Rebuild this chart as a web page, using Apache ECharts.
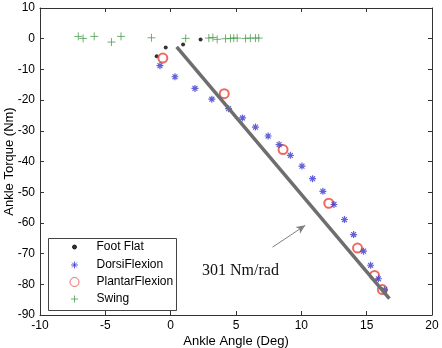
<!DOCTYPE html>
<html lang="en">
<head>
    <meta charset="utf-8">
    <title>Ankle torque vs angle</title>
    <script src="https://cdn.jsdelivr.net/npm/echarts@6/dist/echarts.min.js"></script>
    <style>
        html, body { margin: 0; padding: 0; background: #fff; }
        #main { width: 442px; height: 348px; }
    </style>
</head>
<body>
<div id="main"></div>
<script type="application/javascript">
    // values (deg, Nm)
    var footFlatX = [-1.07, -0.38, 0.95, 2.29];
    var footFlatY = [-5.7, -2.9, -1.9, -0.3];

    var dorsiX = [-0.82, 0.33, 1.86, 3.15, 4.43, 5.5, 6.49, 7.46, 8.3, 9.16, 10.05, 10.86, 11.65, 12.5, 13.3, 14.0, 14.76, 15.3, 15.9, 16.36];
    var dorsiY = [-8.8, -12.4, -16.2, -19.7, -22.8, -25.8, -28.8, -31.7, -34.5, -38.0, -41.5, -45.6, -49.7, -54.0, -58.9, -63.8, -69.2, -73.8, -78.2, -81.8];

    var plantarX = [-0.6, 4.1, 8.6, 12.1, 14.3, 15.6, 16.2];
    var plantarY = [-6.3, -17.9, -36.1, -53.6, -68.2, -77.1, -81.7];

    var swingX = [-7.07, -6.7, -5.85, -4.53, -3.8, -1.47, 1.15, 2.92, 3.23, 3.56, 4.2, 4.58, 4.83, 5.09, 5.73, 6.1, 6.49, 6.74];
    var swingY = [0.75, 0.1, 0.75, -1.1, 0.75, 0.3, 0.1, 0.2, 0.4, -0.2, 0.0, 0.1, 0.2, 0.2, 0.1, 0.2, 0.2, 0.2];

    // stiffness fit line and annotation
    var fitX = [0.46, 16.74];
    var fitY = [-2.7, -84.7];
    var arrowX = [7.8, 10.3];
    var arrowY = [-67.9, -60.8];
    var slopeText = '301 Nm/rad';
    var slopeAt = [5.34, -75.5];

    var xTicks = { min: -10, max: 20, step: 5 };
    var yTicks = { min: -90, max: 10, step: 10 };

    function pairs(xs, ys) {
        var out = [];
        for (var i = 0; i < xs.length; i++) {
            out.push([xs[i], ys[i]]);
        }
        return out;
    }

    var sansFont = 'Liberation Sans, Arial, sans-serif';
    var plusPath = 'path://M0,5L10,5M5,0L5,10';
    var starPath = 'path://M0,5L10,5M5,0L5,10M1.5,1.5L8.5,8.5M1.5,8.5L8.5,1.5';

    function boxAxis(ticks, pos, withLabels, name) {
        var ax = {
            type: 'value',
            position: pos,
            min: ticks.min,
            max: ticks.max,
            interval: ticks.step,
            axisLine: { show: true, onZero: false, lineStyle: { color: '#333', width: 1 } },
            axisTick: { show: true, inside: true, length: 4, lineStyle: { color: '#333' } },
            axisLabel: { show: withLabels, color: '#000', fontSize: 12, fontFamily: sansFont, margin: 5 },
            splitLine: { show: false }
        };
        if (name) {
            ax.name = name;
            ax.nameLocation = 'middle';
            ax.nameMoveOverlap = false;
            ax.nameTextStyle = { color: '#000', fontSize: 13, fontFamily: sansFont };
        }
        return ax;
    }

    var xBottom = boxAxis(xTicks, 'bottom', true, 'Ankle Angle (Deg)');
    xBottom.nameGap = 20;
    var yLeft = boxAxis(yTicks, 'left', true, 'Ankle Torque (Nm)');
    yLeft.nameGap = 24;

    // one legend per row so each marker keeps its own size
    function legendRow(name, icon, rowY, size, color, fill) {
        return {
            data: [{ name: name, icon: icon }],
            left: 74 - size / 2,
            top: rowY - 7,
            padding: 0,
            itemWidth: size,
            itemHeight: size,
            itemGap: 0,
            selectedMode: false,
            itemStyle: { color: fill, borderColor: color, borderWidth: 1 },
            textStyle: {
                color: '#000', fontSize: 12, fontFamily: sansFont,
                padding: [0, 0, 0, 96 - (74 + size / 2) - 5]
            }
        };
    }

    var chart = echarts.init(document.getElementById('main'));
    chart.setOption({
        animation: false,
        backgroundColor: '#fff',
        grid: { left: 40, right: 10, top: 8, bottom: 33, outerBoundsMode: 'none', containLabel: false },
        xAxis: [xBottom, boxAxis(xTicks, 'top', false)],
        yAxis: [yLeft, boxAxis(yTicks, 'right', false)],
        legend: [
            legendRow('Foot Flat', 'circle', 248, 4, '#000', '#000'),
            legendRow('DorsiFlexion', starPath, 266, 7, '#3a3ad0', '#3a3ad0'),
            legendRow('PlantarFlexion', 'circle', 283, 9, '#e8453c', '#fff'),
            legendRow('Swing', plusPath, 300, 7, '#4c9c4c', 'transparent')
        ],
        graphic: [{
            type: 'rect',
            left: 48,
            top: 238,
            z: 3,
            shape: { width: 128, height: 72 },
            style: { fill: '#fff', stroke: '#444', lineWidth: 1 }
        }],
        series: [
            {
                name: 'fit',
                type: 'line',
                data: pairs(fitX, fitY),
                symbol: 'none',
                lineStyle: { color: '#6e6e6e', width: 3.5 },
                markLine: {
                    silent: true,
                    symbolSize: [6, 9],
                    label: { show: false },
                    lineStyle: { color: '#808080', width: 1, type: 'solid' },
                    data: [[
                        { coord: [arrowX[0], arrowY[0]], symbol: 'none' },
                        { coord: [arrowX[1], arrowY[1]], symbol: 'arrow' }
                    ]]
                },
                markPoint: {
                    silent: true,
                    symbol: 'circle',
                    symbolSize: 0,
                    data: [{
                        coord: slopeAt,
                        label: {
                            show: true,
                            position: 'inside',
                            formatter: slopeText,
                            color: '#111',
                            fontSize: 16,
                            fontFamily: 'Liberation Serif, Times New Roman, serif'
                        }
                    }]
                }
            },
            {
                name: 'Foot Flat',
                type: 'scatter',
                data: pairs(footFlatX, footFlatY),
                symbol: 'circle',
                symbolSize: 4,
                itemStyle: { color: '#000' }
            },
            {
                name: 'PlantarFlexion',
                type: 'scatter',
                data: pairs(plantarX, plantarY),
                symbol: 'emptyCircle',
                symbolSize: 9,
                itemStyle: { color: '#e8453c', borderWidth: 1 }
            },
            {
                name: 'DorsiFlexion',
                type: 'scatter',
                data: pairs(dorsiX, dorsiY),
                symbol: starPath,
                symbolSize: 7,
                itemStyle: { color: '#3a3ad0', borderColor: '#3a3ad0', borderWidth: 1.2 }
            },
            {
                name: 'Swing',
                type: 'scatter',
                data: pairs(swingX, swingY),
                symbol: plusPath,
                symbolSize: 8,
                itemStyle: { color: '#4c9c4c', borderColor: '#4c9c4c', borderWidth: 1 }
            }
        ]
    });
</script>
</body>
</html>
